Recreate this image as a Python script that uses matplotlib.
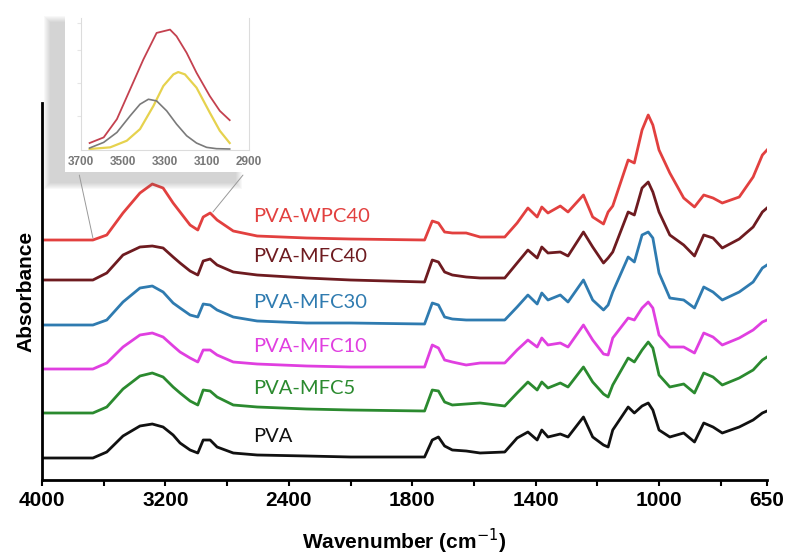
import numpy as np
import matplotlib
matplotlib.use("Agg")
import matplotlib.pyplot as plt
from matplotlib.patches import Rectangle, ConnectionPatch

wavenumber = [4000, 3670, 3580, 3475, 3365, 3285, 3215, 3150, 3105, 3040, 2990, 2955, 2910, 2865,
              2760, 2605, 2285, 2000,
              1760, 1735, 1715, 1695, 1670, 1625, 1580, 1500, 1460, 1425, 1395, 1380, 1360, 1320,
              1295, 1245, 1215, 1180, 1165, 1150, 1100, 1080, 1055, 1035, 1020, 1000, 965, 920,
              885, 855, 825, 795, 740, 695, 665, 650]

# absorbance (a.u., x1000) of each sample
pva_wpc40 = [0, 0, 5, 27, 47, 56, 52, 37, 28, 15, 10, 23, 27, 20, 9, 4, 2, 1,
             0, 19, 17, 8, 7, 7, 3, 3, 17, 32, 23, 33, 27, 34, 28, 45, 23, 16, 28, 34, 80, 77,
             110, 125, 115, 90, 67, 42, 33, 45, 42, 37, 43, 63, 85, 90]
pva_mfc40 = [0, 0, 7, 25, 33, 34, 32, 23, 17, 9, 5, 19, 21, 15, 8, 5, 2, 0,
             -2, 20, 18, 8, 5, 3, 2, 2, 17, 30, 22, 33, 27, 28, 24, 48, 33, 17, 22, 28, 68, 65,
             92, 98, 88, 68, 45, 35, 24, 45, 42, 32, 41, 53, 68, 72]
pva_mfc30 = [0, 0, 5, 23, 37, 39, 33, 22, 17, 10, 8, 21, 20, 15, 8, 4, 2, 2,
             1, 22, 20, 8, 6, 5, 5, 5, 18, 30, 21, 32, 25, 30, 23, 45, 25, 15, 20, 33, 68, 63,
             90, 93, 87, 52, 27, 25, 17, 38, 33, 25, 33, 43, 57, 60]
pva_mfc10 = [0, 0, 6, 22, 34, 36, 32, 23, 17, 11, 7, 19, 19, 14, 7, 5, 3, 2,
             2, 24, 21, 9, 7, 4, 6, 6, 19, 29, 22, 31, 24, 26, 22, 44, 29, 15, 14, 31, 51, 49,
             61, 67, 61, 34, 22, 22, 16, 36, 32, 24, 31, 39, 47, 49]
pva_mfc5 = [0, 0, 6, 24, 37, 40, 36, 26, 20, 12, 8, 23, 22, 16, 8, 6, 4, 3,
            2, 23, 22, 11, 8, 9, 10, 7, 20, 31, 23, 31, 25, 30, 26, 46, 31, 19, 16, 28, 55, 51,
            63, 71, 65, 38, 26, 29, 20, 40, 36, 28, 35, 43, 53, 56]
pva = [0, 0, 6, 22, 32, 34, 31, 23, 15, 8, 5, 18, 18, 11, 5, 3, 2, 1,
       1, 18, 21, 12, 8, 7, 5, 6, 20, 26, 18, 28, 21, 24, 21, 41, 21, 13, 11, 28, 51, 45,
       52, 55, 48, 28, 21, 25, 16, 35, 31, 25, 31, 38, 45, 47]

names = ["PVA-WPC40", "PVA-MFC40", "PVA-MFC30", "PVA-MFC10", "PVA-MFC5", "PVA"]
spectra = [pva_wpc40, pva_mfc40, pva_mfc30, pva_mfc10, pva_mfc5, pva]
colors = ["#e2403f", "#6e1b20", "#2f7bb0", "#e03fe0", "#2b8a2f", "#111111"]
offsets = [240, 200, 155, 111, 67, 22]
label_y = [263, 223, 177, 133, 91, 43]

# inset: O-H band deconvolution
inset_wn = [3659, 3592, 3529, 3466, 3403, 3340, 3308, 3276, 3245, 3197, 3150, 3087, 3039, 2992]
inset_total = [18, 35, 90, 180, 270, 350, 355, 360, 340, 290, 230, 160, 115, 87]
gauss_wn = [3659, 3592, 3529, 3466, 3419, 3379, 3340, 3292, 3245, 3197, 3150, 3102, 3055, 2992]
gauss_a = [3, 20, 50, 100, 135, 150, 145, 115, 75, 40, 18, 5, 1, 0]
gauss2_wn = [3659, 3561, 3482, 3419, 3355, 3308, 3260, 3237, 3205, 3150, 3087, 3039, 2992]
gauss_b = [0, 5, 25, 60, 130, 190, 225, 232, 225, 185, 110, 55, 18]


# spectrometer-style axis: 400 cm-1 per division above 2000, 200 below
def fwd(w):
    w = np.asarray(w, float)
    return -np.where(w >= 2000, (4000 - w) / 400, 5 + (2000 - w) / 200)


def inv(p):
    p = -np.asarray(p, float)
    return np.where(p <= 5, 4000 - 400 * p, 2000 - 200 * (p - 5))


W, H = 792, 559


def fx(x):
    return x / W


def fy(y):
    return 1 - y / H


fig = plt.figure(figsize=(W / 100, H / 100), dpi=100)
ax = fig.add_axes([fx(42), fy(480), fx(767) - fx(42), fy(103) - fy(480)])
ax.set_zorder(0)
ax.set_xscale("function", functions=(fwd, inv))

for name, s, c, off, ly in zip(names, spectra, colors, offsets, label_y):
    ax.plot(wavenumber, np.array(s) + off, color=c, lw=2.0, solid_joinstyle="round")
    ax.text(2633, ly, name, color=c, fontsize=14.5, family="Lato", va="center", ha="left")

ax.set_xlim(4000, 650)
ax.set_ylim(0, 377)
major = [4000, 3200, 2400, 1800, 1400, 1000, 650]
ax.set_xticks(major)
ax.set_xticklabels([str(m) for m in major], fontsize=15, fontweight="bold", family="Liberation Sans")
ax.set_xticks([3600, 2800, 2000, 1600, 1200, 800], minor=True)
ax.tick_params(axis="x", which="both", direction="out", length=4, width=1.5, pad=4)
ax.set_yticks([])
for sp in ["top", "right"]:
    ax.spines[sp].set_visible(False)
ax.spines["left"].set_linewidth(2)
ax.spines["bottom"].set_linewidth(2)
ax.set_xlabel("Wavenumber (cm$^{-1}$)", fontsize=15, fontweight="bold", family="Liberation Sans", labelpad=12)
ax.set_ylabel("Absorbance", fontsize=15, fontweight="bold", family="Liberation Sans", labelpad=5)

# inset shadow + white panel
for i in range(7):
    fig.add_artist(Rectangle((fx(50 - i), fy(183 + i)), fx(186 + 2 * i), fy(22 - i) - fy(183 + i),
                             transform=fig.transFigure, facecolor="#666666", edgecolor="none",
                             alpha=0.045, zorder=1))
fig.add_artist(Rectangle((fx(65), fy(172)), fx(188), fy(13) - fy(172), transform=fig.transFigure,
                         facecolor="white", edgecolor="none", zorder=2))

ins = fig.add_axes([fx(81), fy(150), fx(249) - fx(81), fy(18) - fy(150)])
ins.set_zorder(3)
ins.plot(inset_wn, inset_total, color="#c4414f", lw=1.3)
ins.plot(gauss2_wn, gauss_b, color="#e6d24e", lw=1.6)
ins.plot(gauss_wn, gauss_a, color="#7a7a7a", lw=1.2)
ins.set_xlim(3700, 2900)
ins.set_ylim(-3, 395)
ins.set_xticks([3700, 3500, 3300, 3100, 2900])
ins.set_xticklabels(["3700", "3500", "3300", "3100", "2900"], fontsize=8.5, fontweight="bold",
                    color="#777777", family="Liberation Sans")
ins.set_yticks([100, 200, 300, 380])
ins.set_yticklabels([])
ins.tick_params(axis="x", length=0, pad=4)
ins.tick_params(axis="y", length=3, color="#e6e6e6", direction="out")
ins.spines["top"].set_visible(False)
for sp in ["left", "bottom", "right"]:
    ins.spines[sp].set_color("#dcdcdc")
    ins.spines[sp].set_linewidth(0.8)

# leader lines from the inset to the O-H band
for xa, xb, yb in [(-0.01, 3670, 242), (0.964, 2892, 268)]:
    con = ConnectionPatch(xyA=(xa, -0.19), coordsA=ins.transAxes, xyB=(xb, yb), coordsB=ax.transData,
                          color="#999999", lw=0.7, zorder=4)
    fig.add_artist(con)

fig.savefig("out.png", dpi=100)
